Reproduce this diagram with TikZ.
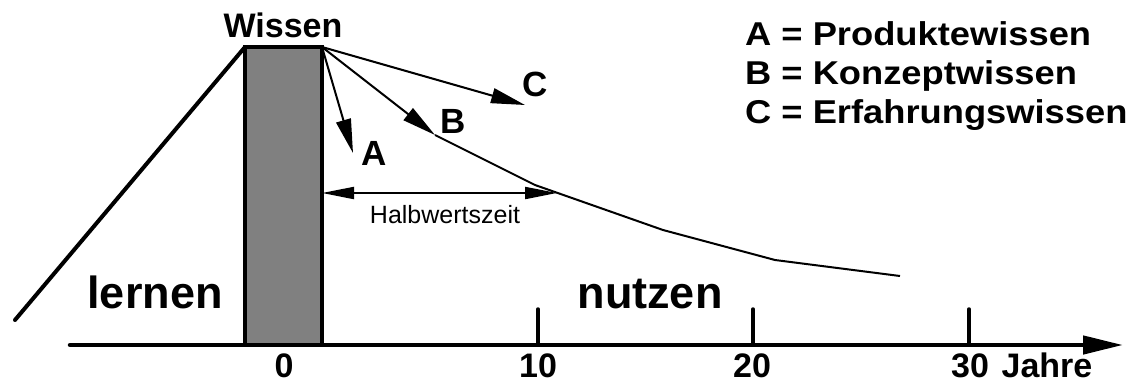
\documentclass[tikz,border=0pt]{standalone}
\usepackage{fontspec}
\setmainfont{Liberation Sans}
\newfontfamily\wide[FakeStretch=1.1]{Liberation Sans}
\usetikzlibrary{arrows.meta}
\tikzset{
  thickline/.style={line width=4pt, line cap=round, line join=round},
  thinline/.style={line width=2pt, line join=round},
  bigtip/.style={-{Triangle[length=34pt,width=15pt]}},
  lbl/.style={inner sep=0pt, font=\bfseries\fontsize{#1}{#1}\selectfont},
  widelbl/.style={inner sep=0pt, font=\wide\bfseries\fontsize{#1}{#1}\selectfont},
}
\begin{document}
\begin{tikzpicture}[x=1pt,y=-1pt]
\useasboundingbox (0,0) rectangle (1141,381);
% coordinates
\coordinate (apex) at (322,47);
\coordinate (tl) at (245,47);
\coordinate (base) at (15,320);
\coordinate (axL) at (70,345);
\coordinate (axR) at (1123,345);
\coordinate (tipA) at (353,153);
\coordinate (tipB) at (435,135);
\coordinate (tipC) at (525,105);
\coordinate (c1) at (535,185);
\coordinate (c2) at (663,230);
\coordinate (c3) at (775,260);
\coordinate (c4) at (900,276);
\coordinate (hwL) at (322,193);
\coordinate (hwR) at (557,193);
% rectangle
\draw[line width=4pt, fill={rgb,255:red,128;green,128;blue,128}] (245,345) rectangle (apex);
\draw[thickline] (base) -- (tl);
% axis
\draw[line width=4.5pt, line cap=round, -{Triangle[length=40pt,width=18pt]}] (axL) -- (axR);
\foreach \x/\n in {538/t10,753/t20,969/t30}{
  \coordinate (\n) at (\x,309);
  \draw[line width=3.5pt, line cap=round] (\n) -- (\x,345);
}
% knowledge curves
\draw[thinline, bigtip] (apex) -- (tipA);
\draw[thinline, bigtip] (apex) -- (tipB);
\draw[thinline, bigtip] (apex) -- (tipC);
\draw[thinline] (tipB) -- (c1) -- (c2) -- (c3) -- (c4);
% Halbwertszeit
\draw[line width=2pt, {Triangle[length=32pt,width=12pt]}-{Triangle[length=32pt,width=12pt]}] (hwL) -- (hwR);
\node[inner sep=0pt, font=\fontsize{25}{25}\selectfont] (hw) at (445,215) {Halbwertszeit};
% labels
\node[lbl=34, anchor=base] (wissen) at (283,37) {Wissen};
\node[lbl=35] (A) at (374,153) {A};
\node[lbl=35] (B) at (453,121) {B};
\node[lbl=35] (C) at (535,84) {C};
\node[lbl=45, anchor=base] (lernen) at (155,308) {lernen};
\node[lbl=45, anchor=base] (nutzen) at (650,308) {nutzen};
\node[lbl=34, anchor=base] (n0) at (284,377) {0};
\node[lbl=34, anchor=base] (n10) at (538,377) {10};
\node[lbl=34, anchor=base] (n20) at (752,377) {20};
\node[lbl=34, anchor=base] (n30) at (970,377) {30};
\node[lbl=34, anchor=base] (jahre) at (1047,377) {Jahre};
% legend
\node[widelbl=33, anchor=base west] (la) at (745,45) {A = Produktewissen};
\node[widelbl=33, anchor=base west] (lb) at (745,84) {B = Konzeptwissen};
\node[widelbl=33, anchor=base west] (lc) at (745,123) {C = Erfahrungswissen};
\end{tikzpicture}
\end{document}
